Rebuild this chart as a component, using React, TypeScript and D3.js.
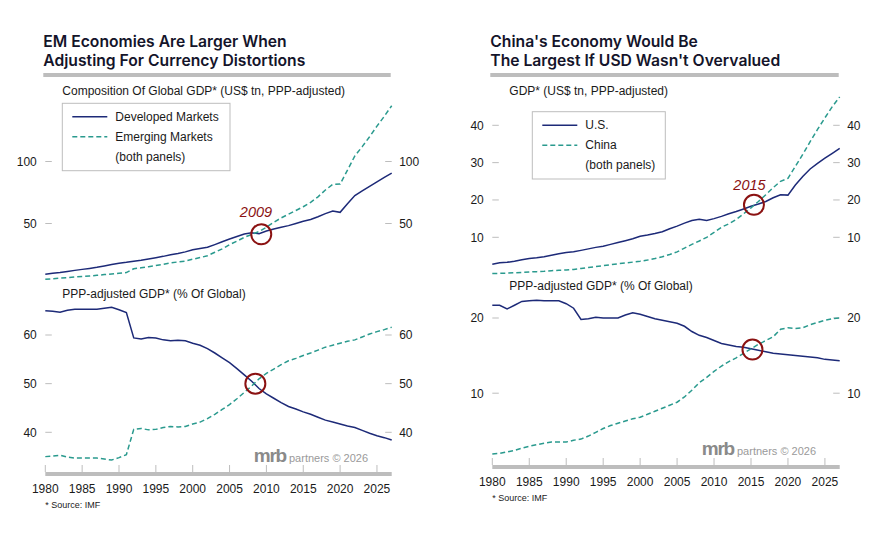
import * as d3 from "d3";

const years = d3.range(1980, 2028);

// left panel, top: composition of global GDP (US$ tn, PPP)
const dmGdp = [
  9.1, 9.9, 10.5, 11.3, 12.2, 13.0, 13.8, 14.7, 15.8, 16.9, 18.0, 18.7, 19.6, 20.4, 21.4, 22.4,
  23.5, 24.8, 25.8, 27.1, 28.9, 29.8, 30.8, 33.0, 35.3, 37.5, 39.5, 41.5, 42.5, 41.7, 44.0, 45.5,
  47.0, 48.3, 50.0, 51.8, 53.2, 55.5, 58.0, 60.0, 59.0, 66.0, 72.5, 76.3, 80.0, 83.6, 87.2, 90.6,
];
const emGdp = [
  5.0, 5.5, 5.9, 6.3, 6.8, 7.3, 7.7, 8.2, 8.8, 9.3, 9.9, 10.4, 13.5, 14.3, 15.2, 16.1,
  17.1, 18.2, 19.0, 19.7, 21.2, 22.5, 24.0, 26.8, 29.5, 33.0, 35.8, 38.8, 41.2, 43.6, 47.0, 51.0,
  54.5, 57.5, 60.5, 63.5, 67.0, 71.5, 77.0, 81.5, 81.8, 93.0, 104.5, 112.0, 120.0, 128.5, 136.5, 145.0,
];

// left panel, bottom: share of global GDP (%)
const dmShare = [
  65.0, 64.9, 64.7, 65.1, 65.3, 65.3, 65.3, 65.3, 65.5, 65.7, 65.2, 64.6, 59.4, 59.2, 59.5, 59.4,
  59.0, 58.8, 58.9, 58.8, 58.3, 57.9, 57.2, 56.3, 55.3, 54.3, 53.1, 51.8, 50.5, 49.0, 47.9, 47.0,
  46.1, 45.3, 44.8, 44.2, 43.7, 43.1, 42.5, 42.1, 41.7, 41.3, 41.0, 40.4, 39.8, 39.3, 38.9, 38.4,
];
const emShare = [
  35.0, 35.1, 35.3, 34.9, 34.7, 34.7, 34.7, 34.7, 34.5, 34.3, 34.8, 35.4, 40.6, 40.8, 40.5, 40.6,
  41.0, 41.2, 41.1, 41.2, 41.7, 42.1, 42.8, 43.7, 44.7, 45.7, 46.9, 48.2, 49.5, 51.0, 52.1, 53.0,
  53.9, 54.7, 55.2, 55.8, 56.3, 56.9, 57.5, 57.9, 58.3, 58.7, 59.0, 59.6, 60.2, 60.7, 61.1, 61.6,
];

// right panel, top: GDP (US$ tn, PPP)
const usGdp = [
  2.8, 3.2, 3.3, 3.6, 4.0, 4.3, 4.5, 4.8, 5.2, 5.6, 5.9, 6.1, 6.5, 6.9, 7.3, 7.6,
  8.1, 8.6, 9.1, 9.6, 10.3, 10.6, 11.0, 11.5, 12.3, 13.0, 13.8, 14.5, 14.8, 14.5, 15.0, 15.6,
  16.3, 16.9, 17.6, 18.3, 18.9, 19.6, 20.6, 21.4, 21.3, 24.0, 26.3, 28.3, 29.8, 31.2, 32.5, 33.8,
];
const chinaGdp = [
  0.3, 0.35, 0.4, 0.5, 0.6, 0.7, 0.8, 0.9, 1.05, 1.15, 1.25, 1.4, 1.65, 1.9, 2.15, 2.4,
  2.65, 2.9, 3.1, 3.35, 3.6, 3.9, 4.3, 4.8, 5.4, 6.1, 7.1, 8.1, 9.0, 10.0, 11.3, 12.7,
  13.6, 14.8, 16.3, 17.9, 19.6, 21.4, 23.3, 25.0, 25.8, 29.0, 32.2, 35.6, 38.9, 42.0, 45.0, 47.6,
];

// right panel, bottom: share of global GDP (%)
const usShare = [
  21.7, 21.7, 21.2, 21.7, 22.2, 22.3, 22.35, 22.3, 22.3, 22.3, 21.9, 21.3, 19.8, 19.9, 20.1, 20.0,
  20.0, 20.0, 20.4, 20.7, 20.5, 20.2, 19.9, 19.7, 19.5, 19.3, 18.9, 18.2, 17.7, 17.4, 17.0, 16.6,
  16.4, 16.2, 16.1, 15.9, 15.7, 15.5, 15.3, 15.2, 15.1, 15.0, 14.9, 14.8, 14.7, 14.5, 14.4, 14.3,
];
const chinaShare = [
  1.9, 2.0, 2.2, 2.4, 2.7, 2.95, 3.15, 3.35, 3.5, 3.5, 3.5, 3.75, 3.9, 4.3, 4.8, 5.3,
  5.7, 6.0, 6.3, 6.6, 6.8, 7.2, 7.6, 8.0, 8.4, 8.8, 9.5, 10.4, 11.4, 12.1, 12.9, 13.6,
  14.2, 14.7, 15.3, 15.9, 16.5, 17.0, 17.5, 18.5, 18.7, 18.6, 18.7, 19.1, 19.4, 19.7, 19.9, 20.0,
];

const xTicks = d3.range(1980, 2026, 5);
const leftTopTicks = [50, 100];
const leftBottomTicks = [40, 50, 60];
const rightTopTicks = [10, 20, 30, 40];
const rightBottomTicks = [10, 20];

const NAVY = "#1d2a78";
const TEAL = "#2a9a8e";
const RED = "#8b1212";
const GRID = "#bdbdbd";
const TXT = "#1a1a1a";
const SANS = "'Liberation Sans', Arial, sans-serif";

type Sub = {
  y: d3.ScaleLinear<number, number>;
  ticks: number[];
  a: number[];
  b: number[];
  label: string;
  labelY: number;
  mark: [number, number];
};

type PanelProps = {
  x: d3.ScaleLinear<number, number>;
  title: string[];
  subs: Sub[];
  legend: string[];
  legendBox: [number, number, number, number];
  note: { text: string; x: number; y: number };
  axisY: number;
  logoY: number;
};

function Panel({ x, title, subs, legend, legendBox, note, axisY, logoY }: PanelProps) {
  const [x0, x1] = x.range();
  const line = (y: d3.ScaleLinear<number, number>) =>
    d3
      .line<number>()
      .x((_, i) => x(years[i]))
      .y((d) => y(d));
  const [lx, ly, lw, lh] = legendBox;
  return (
    <g>
      {title.map((t, i) => (
        <text
          key={t}
          x={x0 - 2}
          y={46.5 + i * 19}
          fontFamily="Inter, sans-serif"
          fontWeight={600}
          fontSize={15.7}
          fill="#14142a"
        >
          {t}
        </text>
      ))}
      <rect x={x0 - 2} y={73} width={x1 - x0 + 1} height={4} fill={GRID} />
      {subs.map((s, k) => (
        <g key={k}>
          <text x={x0 + 17} y={s.labelY} fontFamily={SANS} fontSize={12} fill={TXT}>
            {s.label}
          </text>
          {s.ticks.map((t) => (
            <g key={t}>
              <line x1={x0} x2={x0 + 6.5} y1={s.y(t)} y2={s.y(t)} stroke={GRID} />
              <line x1={x1 - 6.5} x2={x1} y1={s.y(t)} y2={s.y(t)} stroke={GRID} />
              <text x={x0 - 8.5} y={s.y(t) + 4.3} textAnchor="end" fontFamily={SANS} fontSize={12} fill={TXT}>
                {t}
              </text>
              <text x={x1 + 7.5} y={s.y(t) + 4.3} fontFamily={SANS} fontSize={12} fill={TXT}>
                {t}
              </text>
            </g>
          ))}
          <path d={line(s.y)(s.a) ?? ""} fill="none" stroke={NAVY} strokeWidth={1.5} />
          <path d={line(s.y)(s.b) ?? ""} fill="none" stroke={TEAL} strokeWidth={1.5} strokeDasharray="5,3" />
          <circle cx={x(s.mark[0])} cy={s.y(s.mark[1])} r={10} fill="none" stroke={RED} strokeWidth={2} />
        </g>
      ))}
      <text x={note.x} y={note.y} textAnchor="middle" fontFamily={SANS} fontStyle="italic" fontSize={14.5} fill={RED}>
        {note.text}
      </text>
      <rect x={lx} y={ly} width={lw} height={lh} fill="white" stroke={GRID} />
      <line x1={lx + 10} x2={lx + 45} y1={ly + 13.5} y2={ly + 13.5} stroke={NAVY} strokeWidth={1.5} />
      <line x1={lx + 10} x2={lx + 45} y1={ly + 33.5} y2={ly + 33.5} stroke={TEAL} strokeWidth={1.5} strokeDasharray="5,3" />
      {legend.map((t, i) => (
        <text key={t} x={lx + 53} y={ly + 17.5 + i * 20} fontFamily={SANS} fontSize={12} fill={TXT}>
          {t}
        </text>
      ))}
      <text x={x1 - 138} y={logoY} fontFamily={SANS} fill="#8a8a8a">
        <tspan fontSize={19} fontWeight={700} letterSpacing={-1.2}>
          mrb
        </tspan>
        <tspan dx={3} fontSize={11} fill="#9a9a9a">
          partners © 2026
        </tspan>
      </text>
      {xTicks.map((t) => (
        <g key={t}>
          <line x1={x(t)} x2={x(t)} y1={axisY - 7} y2={axisY} stroke={GRID} />
          <text x={x(t)} y={axisY + 21} textAnchor="middle" fontFamily={SANS} fontSize={12} fill={TXT}>
            {t}
          </text>
        </g>
      ))}
      <rect x={x0} y={axisY} width={x1 - x0} height={4} fill={GRID} />
      <text x={x0} y={axisY + 36} fontFamily={SANS} fontSize={9} fill={TXT}>
        * Source: IMF
      </text>
    </g>
  );
}

export default function App() {
  const xl = d3.scaleLinear().domain([1980, 2027]).range([45.3, 391.7]);
  const xr = d3.scaleLinear().domain([1980, 2027]).range([492.3, 839.7]);
  const ylt = d3.scaleLinear().domain([0, 100]).range([285.5, 161.5]);
  const ylb = d3.scaleLinear().domain([40, 60]).range([432.3, 335]);
  const yrt = d3.scaleLinear().domain([10, 40]).range([237.3, 125.3]);
  const yrb = d3.scaleLinear().domain([10, 20]).range([393.2, 318]);

  return (
    <svg
      width={896}
      height={543}
      style={{ position: "absolute", left: 0, top: 0, background: "white" }}
    >
      <Panel
        x={xl}
        title={["EM Economies Are Larger When", "Adjusting For Currency Distortions"]}
        subs={[
          { y: ylt, ticks: leftTopTicks, a: dmGdp, b: emGdp, label: "Composition Of Global GDP* (US$ tn, PPP-adjusted)", labelY: 94.5, mark: [2009.3, 41.3] },
          { y: ylb, ticks: leftBottomTicks, a: dmShare, b: emShare, label: "PPP-adjusted GDP* (% Of Global)", labelY: 297.5, mark: [2008.5, 50] },
        ]}
        legend={["Developed Markets", "Emerging Markets", "(both panels)"]}
        legendBox={[62.3, 103.3, 167.7, 67.4]}
        note={{ text: "2009", x: 256, y: 216.7 }}
        axisY={472}
        logoY={461.7}
      />
      <Panel
        x={xr}
        title={["China's Economy Would Be", "The Largest If USD Wasn't Overvalued"]}
        subs={[
          { y: yrt, ticks: rightTopTicks, a: usGdp, b: chinaGdp, label: "GDP* (US$ tn, PPP-adjusted)", labelY: 94.5, mark: [2015.4, 18.7] },
          { y: yrb, ticks: rightBottomTicks, a: usShare, b: chinaShare, label: "PPP-adjusted GDP* (% Of Global)", labelY: 289.5, mark: [2015.2, 15.8] },
        ]}
        legend={["U.S.", "China", "(both panels)"]}
        legendBox={[532.3, 111.7, 133, 67.3]}
        note={{ text: "2015", x: 749.5, y: 190 }}
        axisY={465}
        logoY={455}
      />
    </svg>
  );
}
